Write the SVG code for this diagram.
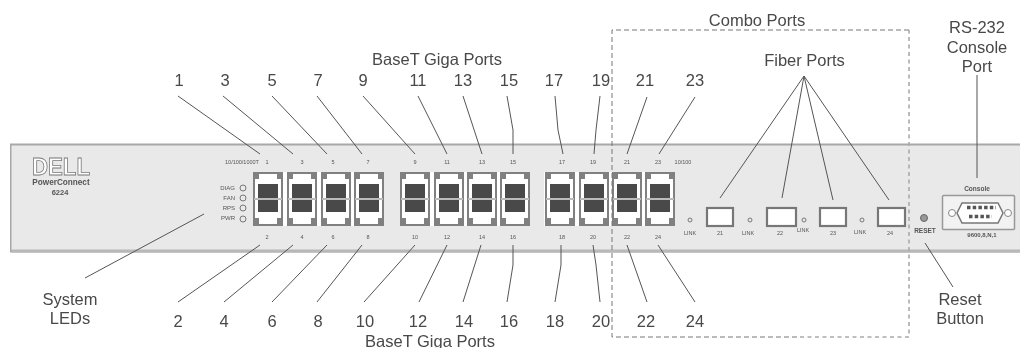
<svg xmlns="http://www.w3.org/2000/svg" width="1020" height="348" viewBox="0 0 1020 348">
<defs>
<filter id="soft" x="0" y="0" width="100%" height="100%"><feGaussianBlur stdDeviation="0.7"/></filter>
<g id="port">
<rect x="0" y="0" width="30" height="54" fill="#808080"/>
<path d="M6 2H24V7H28V26H2V7H6Z M2 28H28V46H24V52H6V46H2Z" fill="#fff"/>
<rect x="1" y="26" width="28" height="2" fill="#bbb"/>
<rect x="5" y="12" width="20" height="14" fill="#4a4a4a"/>
<rect x="5" y="28" width="20" height="12" fill="#4a4a4a"/>
</g>
</defs>
<style>
.lbl{font-family:"Liberation Sans",Arial,sans-serif;font-size:16.5px;fill:#484848;text-anchor:middle}
.tiny{font-family:"Liberation Sans",Arial,sans-serif;font-size:5.5px;fill:#555;text-anchor:middle}
.led-t{text-anchor:end;font-size:6px}
.b{font-weight:bold}
.ln{stroke:#555;stroke-width:1;fill:none}
.sfp{fill:#fff;stroke:#777;stroke-width:2.2}
.led{fill:#e9e9e9;stroke:#777;stroke-width:1}
</style>
<rect width="1020" height="348" fill="#fff"/>
<g filter="url(#soft)">
<g id="panel">
<rect x="10.5" y="144.5" width="1012" height="107" fill="#e9e9e9" stroke="#a8a8a8" stroke-width="2"/>
<line x1="12" y1="251" x2="1020" y2="251" stroke="#b8b8b8" stroke-width="3"/>
<text x="61" y="175" font-family="Liberation Sans,sans-serif" font-size="23" font-weight="bold" fill="#fff" stroke="#777" stroke-width="0.8" text-anchor="middle" textLength="58" lengthAdjust="spacingAndGlyphs">DELL</text>
<text x="61" y="185" class="tiny b" style="font-size:8.2px">PowerConnect</text>
<text x="60" y="195" class="tiny b" style="font-size:7.5px">6224</text>
</g>
<g id="system-leds">
<text x="242" y="164" class="tiny">10/100/1000T</text>
<text x="235" y="190" class="tiny led-t">DIAG</text><circle cx="243" cy="188" r="3" class="led"/>
<text x="235" y="200" class="tiny led-t">FAN</text><circle cx="243" cy="198" r="3" class="led"/>
<text x="235" y="210" class="tiny led-t">RPS</text><circle cx="243" cy="208" r="3" class="led"/>
<text x="235" y="220" class="tiny led-t">PWR</text><circle cx="243" cy="219" r="3" class="led"/>
</g>
<g id="baset-ports">
<rect x="253" y="172" width="131" height="54" fill="#fff"/>
<rect x="400" y="172" width="130" height="54" fill="#fff"/>
<rect x="544" y="172" width="131" height="54" fill="#fff"/>
<use href="#port" x="253" y="172"/><use href="#port" x="287" y="172"/><use href="#port" x="321" y="172"/><use href="#port" x="354" y="172"/>
<use href="#port" x="400" y="172"/><use href="#port" x="434" y="172"/><use href="#port" x="467" y="172"/><use href="#port" x="500" y="172"/>
<use href="#port" x="545" y="172"/><use href="#port" x="579" y="172"/><use href="#port" x="612" y="172"/><use href="#port" x="645" y="172"/>
</g>
<g id="port-numbers">
<text class="tiny" x="267" y="164">1</text><text class="tiny" x="302" y="164">3</text><text class="tiny" x="333" y="164">5</text><text class="tiny" x="368" y="164">7</text><text class="tiny" x="415" y="164">9</text><text class="tiny" x="447" y="164">11</text><text class="tiny" x="482" y="164">13</text><text class="tiny" x="513" y="164">15</text><text class="tiny" x="562" y="164">17</text><text class="tiny" x="593" y="164">19</text><text class="tiny" x="627" y="164">21</text><text class="tiny" x="658" y="164">23</text>
<text class="tiny" x="267" y="239">2</text><text class="tiny" x="302" y="239">4</text><text class="tiny" x="333" y="239">6</text><text class="tiny" x="368" y="239">8</text><text class="tiny" x="415" y="239">10</text><text class="tiny" x="447" y="239">12</text><text class="tiny" x="482" y="239">14</text><text class="tiny" x="513" y="239">16</text><text class="tiny" x="562" y="239">18</text><text class="tiny" x="593" y="239">20</text><text class="tiny" x="627" y="239">22</text><text class="tiny" x="658" y="239">24</text>
<text class="tiny" x="683" y="164">10/100</text>
</g>
<g id="fiber-ports">
<rect class="sfp" x="707" y="208" width="26" height="18"/><rect class="sfp" x="767" y="208" width="29" height="18"/><rect class="sfp" x="820" y="208" width="26" height="18"/><rect class="sfp" x="878" y="208" width="27" height="18"/>
<circle class="led" cx="690" cy="220" r="2"/><circle class="led" cx="750" cy="220" r="2"/><circle class="led" cx="804" cy="220" r="2"/><circle class="led" cx="862" cy="220" r="2"/>
<text class="tiny" x="690" y="235">LINK</text><text class="tiny" x="748" y="235">LINK</text><text class="tiny" x="803" y="232">LINK</text><text class="tiny" x="860" y="234">LINK</text>
<text class="tiny" x="720" y="235">21</text><text class="tiny" x="780" y="235">22</text><text class="tiny" x="833" y="235">23</text><text class="tiny" x="890" y="235">24</text>
</g>
<g id="reset-button">
<circle cx="924" cy="218" r="3.5" fill="#999" stroke="#666"/>
<text class="tiny b" x="925" y="233" style="font-size:6.5px">RESET</text>
</g>
<g id="console-port">
<rect x="942.5" y="195.5" width="72" height="34" rx="1" fill="#f2f2f2" stroke="#999" stroke-width="1.5"/>
<path d="M962 203H998L1003 213L998 223H962L957 213Z" fill="#fff" stroke="#777" stroke-width="1.5"/>
<circle cx="952" cy="213" r="3.5" fill="#fff" stroke="#888"/><circle cx="1008" cy="213" r="3.5" fill="#fff" stroke="#888"/>
<path d="M967 207.500H996M969 216.500H992" stroke="#555" stroke-width="3.5" stroke-dasharray="3.500 2.200" fill="none"/>
<text class="tiny b" x="977" y="191" style="font-size:6.500px">Console</text>
<text class="tiny b" x="982" y="237" style="font-size:6px">9600,8,N,1</text>
</g>
<g id="connectors" class="ln">
<line x1="178" y1="96" x2="260" y2="154"/><line x1="223" y1="96" x2="293" y2="154"/><line x1="272" y1="96" x2="327" y2="154"/><line x1="317" y1="96" x2="362" y2="154"/><line x1="363" y1="96" x2="415" y2="154"/><line x1="418" y1="96" x2="447" y2="154"/><line x1="463" y1="96" x2="482" y2="154"/><path d="M507 96L513 130V154"/><path d="M555 96L558 130L563 154"/><path d="M600 96L596 130L594 154"/><line x1="647" y1="97" x2="627" y2="154"/><line x1="695" y1="97" x2="659" y2="154"/>
<line x1="178" y1="302" x2="260" y2="245"/><line x1="224" y1="302" x2="293" y2="245"/><line x1="272" y1="302" x2="327" y2="245"/><line x1="317" y1="302" x2="362" y2="245"/><line x1="364" y1="302" x2="415" y2="245"/><line x1="419" y1="302" x2="447" y2="245"/><line x1="463" y1="302" x2="481" y2="245"/><path d="M507 302L513 265V245"/><path d="M555 302L561 265V245"/><path d="M600 302L596 265L593 245"/><line x1="647" y1="302" x2="627" y2="245"/><line x1="695" y1="302" x2="658" y2="245"/>
<line x1="204" y1="214" x2="85" y2="278"/>
<line x1="804" y1="76" x2="720" y2="198"/><line x1="804" y1="76" x2="782" y2="198"/><line x1="804" y1="76" x2="833" y2="200"/><line x1="804" y1="76" x2="889" y2="200"/>
<line x1="977" y1="75" x2="977" y2="178"/>
<line x1="925" y1="243" x2="953" y2="287"/>
<path d="M909 30H612V337H800" stroke="#777" stroke-dasharray="5 3"/>
<path d="M800 337H909V30" stroke="#aaa" stroke-width="1.600" stroke-dasharray="4 3.500"/>
</g>
<g id="labels">
<text class="lbl" x="179" y="86">1</text><text class="lbl" x="225" y="86">3</text><text class="lbl" x="272" y="86">5</text><text class="lbl" x="318" y="86">7</text><text class="lbl" x="363" y="86">9</text><text class="lbl" x="418" y="86">11</text><text class="lbl" x="463" y="86">13</text><text class="lbl" x="509" y="86">15</text><text class="lbl" x="554" y="86">17</text><text class="lbl" x="601" y="86">19</text><text class="lbl" x="645" y="86">21</text><text class="lbl" x="695" y="86">23</text>
<text class="lbl" x="178" y="327">2</text><text class="lbl" x="224" y="327">4</text><text class="lbl" x="272" y="327">6</text><text class="lbl" x="318" y="327">8</text><text class="lbl" x="365" y="327">10</text><text class="lbl" x="418" y="327">12</text><text class="lbl" x="464" y="327">14</text><text class="lbl" x="509" y="327">16</text><text class="lbl" x="555" y="327">18</text><text class="lbl" x="601" y="327">20</text><text class="lbl" x="646" y="327">22</text><text class="lbl" x="695" y="327">24</text>
<text class="lbl" x="437" y="65">BaseT Giga Ports</text><text class="lbl" x="430" y="347">BaseT Giga Ports</text>
<text class="lbl" x="757" y="26">Combo Ports</text><text class="lbl" x="804.500" y="66">Fiber Ports</text>
<text class="lbl" x="977" y="33">RS-232</text><text class="lbl" x="977" y="53">Console</text><text class="lbl" x="977" y="72">Port</text>
<text class="lbl" x="70" y="305">System</text><text class="lbl" x="70" y="324">LEDs</text>
<text class="lbl" x="960" y="305">Reset</text><text class="lbl" x="960" y="324">Button</text>
</g>
</g>
</svg>
